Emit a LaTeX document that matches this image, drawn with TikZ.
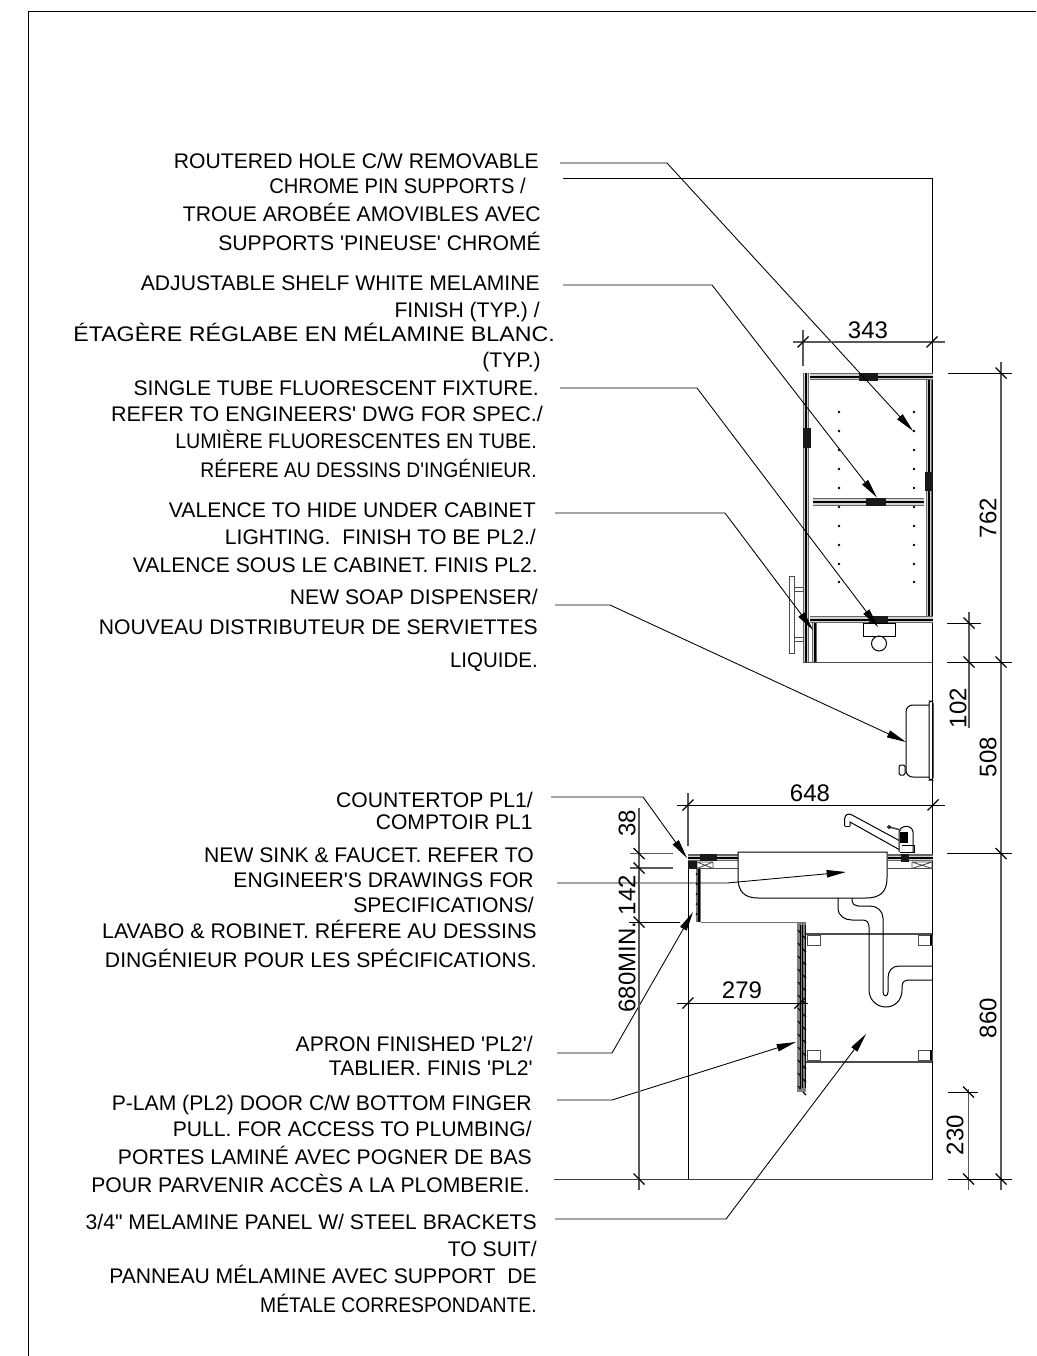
\documentclass[tikz,border=0pt]{standalone}
\usepackage{fontspec}
\newfontfamily\plainsans{Liberation Sans}
\usetikzlibrary{arrows.meta}
\tikzset{
  x=0.75pt,y=-0.75pt,
  lbl/.style={anchor=base east,inner sep=0pt,font=\plainsans\fontsize{15.85}{18}\selectfont},
  dimtxt/.style={anchor=center,inner sep=0pt,font=\plainsans\fontsize{18}{20}\selectfont},
  rdim/.style={dimtxt,rotate=90},
  leaderline/.style={black,line width=0.65pt,-{Triangle[length=14.5pt,width=5.5pt]}},
  dimline/.style={black!65,line width=0.8pt},
  extline/.style={black,line width=0.7pt},
  tickmark/.style={black,line width=1pt},
  wall/.style={black,line width=0.75pt},
  thinwall/.style={black!70,line width=0.65pt},
  patch/.style={fill=black!90,draw=none},
  peg/.style={fill=black,draw=none},
}
\newcommand{\tl}[5][1]{\node[lbl] (#2) at (#3,#4+7) {\scalebox{#1}[1]{#5}};}
\newcommand{\leaderpath}[6]{\coordinate (#1a) at (#2,#3);\coordinate (#1b) at (#4,#3);\coordinate (#1c) at (#5,#6);\draw[leaderline] (#1a) -- (#1b) -- (#1c);}
\newcommand{\tickat}[2]{\draw[tickmark] (#1,#2)+(-5.5,5.5) -- +(5.5,-5.5);}
\newcommand{\vtick}[2]{\draw[tickmark] (#1,#2)+(-5.5,-5.5) -- +(5.5,5.5);}
\newcommand{\hpanel}[4]{%
  \fill[black!60] (#1,#2) rectangle (#3,#4);
  \fill[black!18] (#1,#2+1.4) rectangle (#3,#4-1.4);
  \fill[black] (#1,{(#2+#4)/2-1}) rectangle (#3,{(#2+#4)/2+1});}
\newcommand{\vpanel}[4]{%
  \fill[black!60] (#1,#2) rectangle (#3,#4);
  \fill[black!18] (#1+1.4,#2) rectangle (#3-1.4,#4);
  \fill[black] ({(#1+#3)/2-1},#2) rectangle ({(#1+#3)/2+1},#4);}
\begin{document}
\begin{tikzpicture}
\path[fill=white] (0,0) rectangle (1036,1356);
\useasboundingbox (0,0) rectangle (1036,1356);
% sheet frame
\coordinate (fa) at (28,1356);\coordinate (fb) at (28,11);\coordinate (fc) at (1036,11);
\draw[black,line width=0.75pt] (fa) -- (fb) -- (fc);

% labels
\tl{a1}{539}{161}{ROUTERED HOLE C/W REMOVABLE}
\tl[0.955]{a2}{526}{186}{CHROME PIN SUPPORTS /}
\tl{a3}{541}{214}{TROUE AROBÉE AMOVIBLES AVEC}
\tl{a4}{541}{243}{SUPPORTS 'PINEUSE' CHROMÉ}
\tl{b1}{540}{283}{ADJUSTABLE SHELF WHITE MELAMINE}
\tl{b2}{540}{310}{FINISH (TYP.) /}
\tl[1.097]{b3}{555}{334}{ÉTAGÈRE RÉGLABE EN MÉLAMINE BLANC.}
\tl{b4}{541}{360}{(TYP.)}
\tl{c1}{539}{388}{SINGLE TUBE FLUORESCENT FIXTURE.}
\tl[1.018]{c2}{543}{414}{REFER TO ENGINEERS' DWG FOR SPEC./}
\tl[0.93]{c3}{537}{441}{LUMIÈRE FLUORESCENTES EN TUBE.}
\tl[0.914]{c4}{537}{470}{RÉFERE AU DESSINS D'INGÉNIEUR.}
\tl{d1}{536}{510}{VALENCE TO HIDE UNDER CABINET}
\tl{d2}{536}{537}{LIGHTING.\ \ FINISH TO BE PL2./}
\tl{d3}{538}{565}{VALENCE SOUS LE CABINET. FINIS PL2.}
\tl{e1}{538}{597}{NEW SOAP DISPENSER/}
\tl{e2}{538}{627}{NOUVEAU DISTRIBUTEUR DE SERVIETTES}
\tl[0.97]{e3}{538}{660}{LIQUIDE.}
\tl{f1}{533}{800}{COUNTERTOP PL1/}
\tl{f2}{533}{822}{COMPTOIR PL1}
\tl{g1}{534}{855}{NEW SINK \& FAUCET. REFER TO}
\tl{g2}{534}{880}{ENGINEER'S DRAWINGS FOR}
\tl{g3}{534}{905}{SPECIFICATIONS/}
\tl[1.01]{g4}{537}{931}{LAVABO \& ROBINET. RÉFERE AU DESSINS}
\tl{g5}{537}{960}{DINGÉNIEUR POUR LES SPÉCIFICATIONS.}
\tl{h1}{533}{1044}{APRON FINISHED 'PL2'/}
\tl{h2}{533}{1068}{TABLIER. FINIS 'PL2'}
\tl{i1}{532}{1103}{P-LAM (PL2) DOOR C/W BOTTOM FINGER}
\tl{i2}{532}{1129}{PULL. FOR ACCESS TO PLUMBING/}
\tl{i3}{532}{1157}{PORTES LAMINÉ AVEC POGNER DE BAS}
\tl{i4}{530}{1185}{POUR PARVENIR ACCÈS A LA PLOMBERIE.}
\tl{j1}{537}{1222}{3/4" MELAMINE PANEL W/ STEEL BRACKETS}
\tl{j2}{537}{1249}{TO SUIT/}
\tl{j3}{537}{1276}{PANNEAU MÉLAMINE AVEC SUPPORT\ \ DE}
\tl[0.914]{j4}{537}{1305}{MÉTALE CORRESPONDANTE.}

% building lines
\coordinate (wa) at (563,178);\coordinate (wb) at (932.5,178);\coordinate (wc) at (932.5,1179);\coordinate (wd) at (554,1179);
\draw[extline] (wa) -- (wb) -- (wc);
\draw[black!75,line width=0.75pt] (wc) -- (wd);

% upper cabinet
\hpanel{810}{373}{933}{380}
\hpanel{813}{498}{924}{506}
\hpanel{810}{616}{933}{623}
\vpanel{803}{373}{809}{662}
\vpanel{926}{380}{932}{616}
\vpanel{812}{623}{817}{662}
\fill[patch] (859,373) rectangle (878,381);
\fill[patch] (803,428) rectangle (811,448);
\fill[patch] (925,472) rectangle (933,491);
\fill[patch] (866,498) rectangle (886,506);
\fill[patch] (869,616) rectangle (888,623);
\draw[thinwall] (803,662) -- (932,662);
% shelf pin dots
\foreach \yy in {412,431,450,469,488,507,526,545,564,582}{
  \fill[peg] (839,\yy) circle (1.4);
  \fill[peg] (914,\yy) circle (1.4);
}
% cabinet pull
\draw[thinwall,fill=white] (789.5,576) rectangle (794,653);
\draw[thinwall] (794,587) rectangle (803,591);
\draw[thinwall] (794,637) rectangle (803,641);
% fluorescent fixture
\draw[wall,fill=white] (863,623) rectangle (895,636);
\draw[wall] (879,643.5) circle (7.5);

% soap dispenser
\draw[wall,rounded corners=5pt] (929,705) -- (906,705) -- (906,777) -- (929,777);
\draw[wall,rounded corners=1.8pt] (929,701) rectangle (933,780);
\draw[wall,rounded corners=1pt] (899,765) rectangle (905,775);

% countertop
\fill[black!60] (688,854) rectangle (738,861);
\fill[black!18] (688,855.5) rectangle (738,859.5);
\fill[black] (688,856.5) rectangle (738,858.5);
\fill[black!60] (888,854) rectangle (933,861);
\fill[black!18] (888,855.5) rectangle (933,859.5);
\fill[black] (888,856.5) rectangle (933,858.5);
\draw[thinwall] (688,868.5) -- (738,868.5);
\draw[thinwall] (888,868.5) -- (933,868.5);
\draw[thinwall] (697,862) rectangle (713,868.5) (697,862) -- (713,868.5) (697,868.5) -- (713,862);
\draw[thinwall] (912,862) rectangle (932,868.5) (912,862) -- (932,868.5) (912,868.5) -- (932,862);
\fill[patch] (700,854) rectangle (717,861);
\fill[patch] (688,861) rectangle (697,869);
\fill[patch] (901,854) rectangle (909,862);
% apron and knee space
\fill[black!55] (696,869) rectangle (701,922);
\fill[black] (697.5,869) rectangle (699.5,922);
\foreach \yy in {874,884,894,904,914}{\fill[peg] (696.5,\yy) circle (1);}
\draw[black!55,line width=0.8pt] (701,922.5) -- (806,922.5);
% door
\fill[black!50] (797,923) rectangle (806,1092);
\foreach \xx in {799.5,802,804.5}{\fill[black] (\xx,925) rectangle (\xx+1.2,1088);}
\foreach \yy in {930,943,956,969,982,995,1008,1021,1034,1047,1060,1073,1086}{
  \draw[black,line width=0.8pt] (798,\yy) -- (800.5,\yy+3);
  \draw[black,line width=0.8pt] (803,\yy+6) -- (806,\yy+9);
}
% sink
\draw[wall,fill=white] (738,852) -- (738,878) .. controls (738,892) and (745,898) .. (758,898) -- (866,898) .. controls (880,898) and (887,892) .. (887,878) -- (887,852) -- cycle;
% faucet
\draw[wall] (844.5,826) -- (844.5,819) .. controls (845,814) and (849,813) .. (852,815) -- (902,842);
\draw[wall] (850,826) -- (844.5,826);
\draw[wall] (850,826) -- (850,822) -- (900,850);
\draw[wall,fill=white] (899,852) -- (899,832) .. controls (900,825) and (912,824) .. (913,832) -- (913,852);
\fill[black] (900,832) rectangle (908,843);
\draw[wall] (902,845) -- (914,845) -- (914,852) -- (900,852);
\draw[thinwall,line width=1.2pt] (889,827) -- (901,830);
\draw[wall] (889,827) circle (1.5);
% shelves and brackets
\draw[black!70,line width=0.85pt] (806,934) -- (932,934);
\draw[black!70,line width=0.85pt] (806,1062) -- (932,1062);
\draw[thinwall] (807,935) rectangle (820,945);
\draw[thinwall] (918,935) rectangle (932,945);
\draw[thinwall] (807,1050) rectangle (820,1060);
\draw[thinwall] (918,1050) rectangle (932,1060);
\fill[black] (930,935) rectangle (932,945);
\fill[black] (930,1050) rectangle (932,1060);
% drain pipes
\draw[wall] (838,898) -- (838,908) .. controls (838,916) and (845,920) .. (852,920) -- (863,920) .. controls (867,920) and (869,923) .. (869,927) -- (869,990) .. controls (869,1000) and (877,1007) .. (886,1007) .. controls (895,1007) and (902,1000) .. (902,990) -- (902,986) .. controls (902,982) and (905,980) .. (909,980) -- (932,980);
\draw[wall] (852,898) -- (852,901) .. controls (852,904) and (855,906) .. (858,906) -- (870,906) .. controls (877,906) and (883,911) .. (883,918) -- (883,992) .. controls (883,997) and (888,997) .. (888,992) -- (888,978) .. controls (888,971) and (892,966) .. (899,966) -- (932,966);

% leaders
\leaderpath{l1}{560}{163}{667}{913}{431}
\leaderpath{l2}{563}{285}{712}{877}{497.5}
\leaderpath{l3}{560}{388}{697}{878}{627}
\leaderpath{l4}{555}{513}{725}{813}{630}
\leaderpath{l5}{555}{605}{610}{906}{742}
\leaderpath{l6}{551}{797}{643}{687}{858}
\leaderpath{l7}{557}{883}{727}{846}{872}
\leaderpath{l8}{557}{1053}{612}{693}{912}
\leaderpath{l9}{557}{1100}{612}{796}{1042}
\leaderpath{l10}{555}{1219}{726}{866}{1034}

% dimension 343
\coordinate (p1) at (793,342);\coordinate (p2) at (945,342);
\draw[dimline] (p1) -- (p2);
\coordinate (p3) at (803,330);\coordinate (p4) at (803,366);
\draw[dimline] (p3) -- (p4);
\tickat{803}{342}\tickat{932}{342}
\node[dimtxt] (t343) at (868,330.5) {343};
% dimensions 762, 508, 860
\coordinate (q1) at (1001,362);\coordinate (q2) at (1001,1190);
\draw[dimline] (q1) -- (q2);
\coordinate (q3) at (948,373);\coordinate (q4) at (1012,373);\draw[extline] (q3) -- (q4);
\coordinate (q5) at (947,662);\coordinate (q6) at (1012,662);\draw[extline] (q5) -- (q6);
\coordinate (q7) at (947,853.5);\coordinate (q8) at (1012,853.5);\draw[extline] (q7) -- (q8);
\coordinate (q9) at (948,1179);\coordinate (q10) at (1012,1179);\draw[extline] (q9) -- (q10);
\vtick{1001}{373}\vtick{1001}{662}\vtick{1001}{853.5}\vtick{1001}{1179}
\node[rdim] (t762) at (988,518) {762};
\node[rdim] (t508) at (988,757) {508};
\node[rdim] (t860) at (988,1018) {860};
% dimension 102
\coordinate (r1) at (969,612);\coordinate (r2) at (969,728);
\draw[dimline] (r1) -- (r2);
\coordinate (r3) at (947,623);\coordinate (r4) at (981,623);\draw[extline] (r3) -- (r4);
\vtick{969}{623}\vtick{969}{662}
\node[rdim] (t102) at (958,708) {102};
% dimension 230
\coordinate (s1) at (968.5,1089);\coordinate (s2) at (968.5,1190);
\draw[dimline] (s1) -- (s2);
\coordinate (s3) at (948,1092);\coordinate (s4) at (978,1092);\draw[extline] (s3) -- (s4);
\vtick{968.5}{1092}\vtick{968.5}{1179}
\node[rdim] (t230) at (955,1135) {230};
% dimension 648
\coordinate (u1) at (677,805);\coordinate (u2) at (945,805);
\draw[extline] (u1) -- (u2);
\coordinate (u3) at (688,793);\coordinate (u4) at (688,846);
\draw[dimline] (u3) -- (u4);
\tickat{688}{805}\tickat{933}{805}
\node[dimtxt] (t648) at (810,793) {648};
% left stacked dimensions
\coordinate (v1) at (639,808);\coordinate (v2) at (639,1190);
\draw[dimline] (v1) -- (v2);
\coordinate (v3) at (630,853.5);\coordinate (v4) at (673,853.5);\draw[dimline] (v3) -- (v4);
\coordinate (v5) at (630,868);\coordinate (v6) at (673,868);\draw[dimline] (v5) -- (v6);
\coordinate (v7) at (629,922);\coordinate (v8) at (680,922);\draw[extline] (v7) -- (v8);
\vtick{639}{853.5}\vtick{639}{868}\vtick{639}{922}\vtick{639}{1179}
\node[rdim] (t38) at (627,823) {38};
\node[rdim] (t142) at (627,895) {142};
\node[rdim] (t680) at (627,967) {680MIN.};
% dimension 279
\coordinate (w1) at (677,1003);\coordinate (w2) at (808,1003);
\draw[extline] (w1) -- (w2);
\coordinate (w3) at (688,868);\coordinate (w4) at (688,1179);
\draw[extline] (w3) -- (w4);
\tickat{688}{1003}\tickat{800}{1003}
\node[dimtxt] (t279) at (742,990) {279};
\end{tikzpicture}
\end{document}
